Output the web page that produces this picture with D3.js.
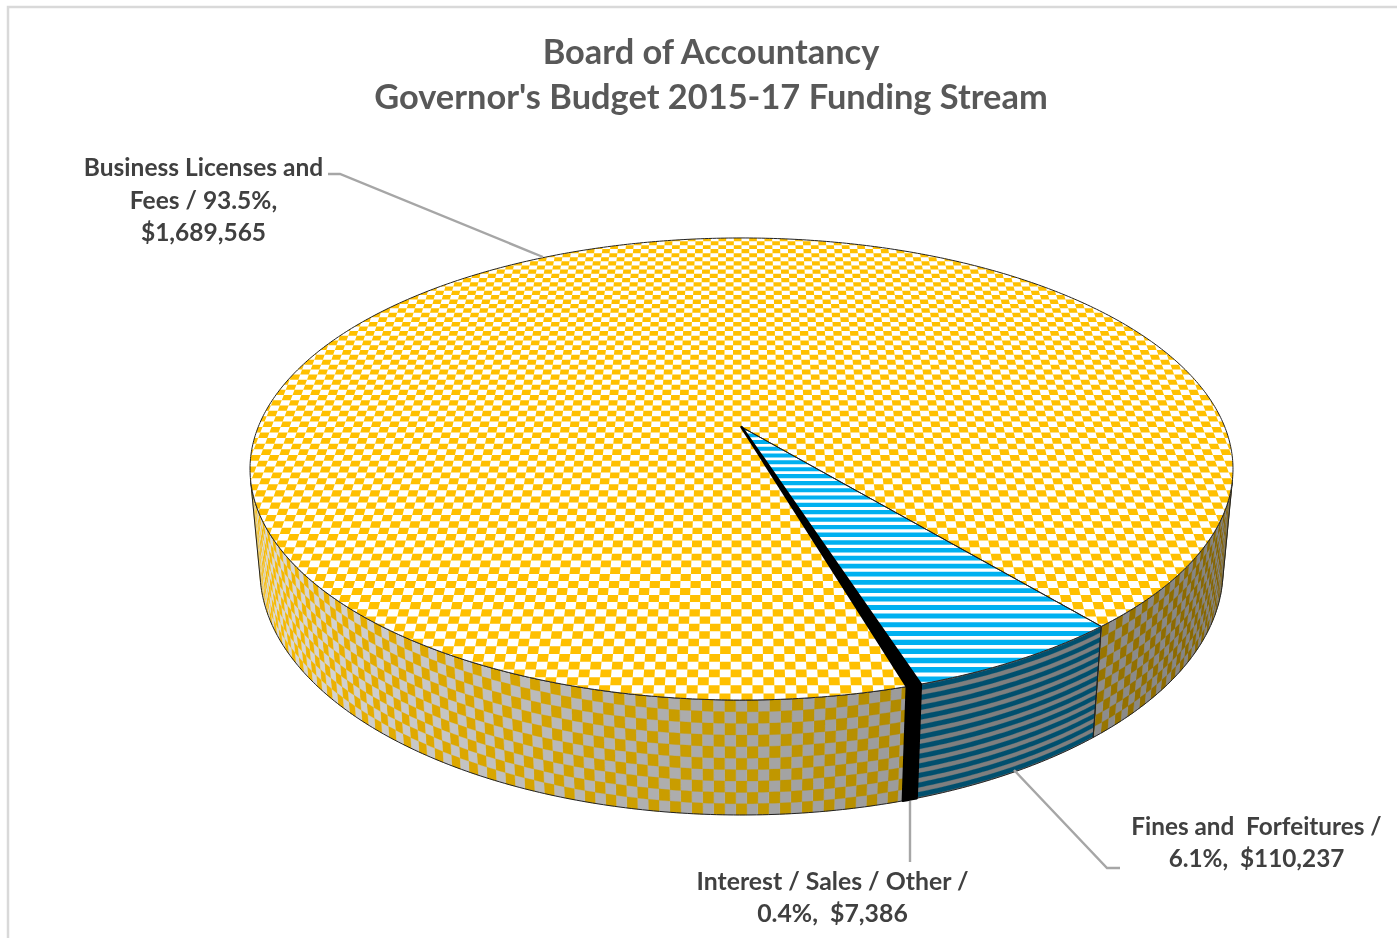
<!DOCTYPE html>
<html>
<head>
<meta charset="utf-8">
<script src="https://cdn.jsdelivr.net/npm/d3@7/dist/d3.min.js"></script>
<style>
  html, body { margin: 0; padding: 0; background: #fff; }
  svg { display: block; }
  text { font-family: Lato, "Open Sans", sans-serif; font-weight: 700; }
</style>
</head>
<body>
<div id="chart"></div>
<script>
var categories = ["Business Licenses and Fees", "Fines and Forfeitures", "Interest / Sales / Other"];
var amounts = [1689565, 110237, 7386];
var titleLines = ["Board of Accountancy", "Governor's Budget 2015-17 Funding Stream"];
var labelLines = [
    ["Business Licenses and", "Fees / 93.5%,", "$1,689,565"],
    ["Fines and  Forfeitures /", "6.1%,  $110,237"],
    ["Interest / Sales / Other /", "0.4%,  $7,386"]
];

var width = 1397, height = 938;

// camera: u,v on the unit disc, h is depth of the pie (0 top, 1 bottom)
var cam = {cx: 741.5, y0: 427, a: 483.3, b: 223.4, c: 0.1818, d: 0.02, e: 101.8};

function project(u, v, h) {
    var w = 1 - cam.c * v + cam.d * h;
    return [cam.cx + cam.a * u / w, cam.y0 + (cam.b * v + cam.e * h) / w];
}
function rim(t, h) { return project(Math.sin(t), -Math.cos(t), h); }

var line = d3.line();
var rad = Math.PI / 180;

var svg = d3.select("#chart").append("svg")
    .attr("width", width)
    .attr("height", height);

// the reference is a soft, scaled up screenshot
svg.append("filter")
    .attr("id", "soft")
    .attr("filterUnits", "userSpaceOnUse")
    .attr("x", 0).attr("y", 0)
    .attr("width", width).attr("height", height)
    .append("feGaussianBlur")
    .attr("stdDeviation", 0.45);

var root = svg.append("g").attr("filter", "url(#soft)");

// frame of the chart area, runs off the picture on the right and bottom
root.append("path")
    .attr("d", "M8,938V7H1397")
    .attr("fill", "none")
    .attr("stroke", "#d9d9d9")
    .attr("stroke-width", 2.5);

var slices = d3.pie().sort(null)
    .startAngle(163.6 * rad)
    .endAngle(163.6 * rad + 2 * Math.PI)(amounts);

var shadeDomain = [-1, -0.65, 0, 1];
var wallOrange = d3.scaleLinear().domain(shadeDomain).range(["#ffc000", "#e3ab00", "#c49a00", "#806000"]);
var wallGrey = d3.scaleLinear().domain(shadeDomain).range(["#dedede", "#cccccc", "#a6a6a6", "#7f7f7f"]);
var wallBlue = "#00506e", wallStripe = "#7f7f7f";

// ---- side wall ----
function faces(t) {
    var s = 0.004,
        p = rim(t - s, 0), q = rim(t + s, 0), r = rim(t, 1), m = rim(t, 0);
    return (q[0] - p[0]) * (r[1] - m[1]) - (q[1] - p[1]) * (r[0] - m[0]) < 0;
}
var visible = d3.range(0, 360, 0.1).map(function(d) { return d * rad; }).filter(faces),
    visFrom = d3.min(visible),
    visTo = d3.max(visible);

var pieces = [];
slices.forEach(function(s, i) {
    [-1, 0, 1].forEach(function(k) {
        var from = Math.max(s.startAngle + k * 2 * Math.PI, visFrom),
            to = Math.min(s.endAngle + k * 2 * Math.PI, visTo);
        if (from < to) pieces.push({index: i, from: from, to: to});
    });
});

// band of the wall between two depths, along one angular range
function wallBand(from, to, h0, h1) {
    var n = Math.max(2, Math.ceil((to - from) / 0.01)),
        ts = d3.range(n + 1).map(function(k) { return from + (to - from) * k / n; }),
        pts = ts.map(function(t) { return rim(t, h0); })
            .concat(ts.slice().reverse().map(function(t) { return rim(t, h1); }));
    return line(pts) + "Z";
}

var wall = root.append("g");
var dT = 0.0191, rows = 10, stripes = 11.7;

pieces.forEach(function(p) {
    var cells = [];
    if (p.index === 0) {
        d3.range(Math.floor(p.from / dT), Math.ceil(p.to / dT)).forEach(function(i) {
            var t0 = Math.max(i * dT, p.from), t1 = Math.min((i + 1) * dT, p.to),
                sn = Math.sin((t0 + t1) / 2);
            cells.push({d: wallBand(t0, t1, 0, 1), color: wallGrey(sn)});
            d3.range(rows).forEach(function(j) {
                if ((i + j) % 2) cells.push({d: wallBand(t0, t1, j / rows, (j + 1) / rows), color: wallOrange(sn)});
            });
        });
    } else if (p.index === 1) {
        cells.push({d: wallBand(p.from, p.to, 0, 1), color: wallStripe});
        d3.range(Math.floor(stripes) + 1).forEach(function(j) {
            cells.push({d: wallBand(p.from, p.to, (j + 0.1) / stripes, Math.min(1, (j + 0.6) / stripes)), color: wallBlue});
        });
    }
    wall.append("g").selectAll("path")
        .data(cells)
        .enter().append("path")
        .attr("d", function(c) { return c.d; })
        .attr("fill", function(c) { return c.color; })
        .attr("stroke", function(c) { return c.color; })
        .attr("stroke-width", 0.3);
});

// wall outlines, black slice is solid
wall.append("g").selectAll("path")
    .data(pieces)
    .enter().append("path")
    .attr("d", function(p) { return wallBand(p.from, p.to, 0, 1); })
    .attr("fill", function(p) { return p.index === 2 ? "#000" : "none"; })
    .attr("stroke", function(p) { return p.index === 2 ? "#000" : "#222"; })
    .attr("stroke-width", function(p) { return p.index === 2 ? 2.5 : 1; })
    .attr("stroke-linejoin", "round");

// ---- top of the pie ----
function slicePath(s) {
    var n = Math.max(2, Math.ceil((s.endAngle - s.startAngle) / 0.01)),
        pts = [project(0, 0, 0)].concat(d3.range(n + 1).map(function(k) {
            return rim(s.startAngle + (s.endAngle - s.startAngle) * k / n, 0);
        }));
    return line(pts) + "Z";
}

svg.append("defs").selectAll("clipPath")
    .data(slices)
    .enter().append("clipPath")
    .attr("id", function(d, i) { return "slice" + i; })
    .append("path")
    .attr("d", slicePath);

function quad(u0, u1, v0, v1) {
    return line([project(u0, v0, 0), project(u1, v0, 0), project(u1, v1, 0), project(u0, v1, 0)]) + "Z";
}

var dU = 0.0187, dV = 0.0245, dS = 0.029;

var checks = "";
d3.range(-54, 54).forEach(function(i) {
    d3.range(-42, 42).forEach(function(j) {
        if ((i + j + 2000) % 2) return;
        var u = i * dU, v = j * dV;
        if (Math.hypot(u + dU / 2, v + dV / 2) > 1.03) return;
        checks += quad(u, u + dU, v, v + dV);
    });
});
var bands = "";
d3.range(0, 36).forEach(function(j) {
    bands += quad(-1.1, 1.1, j * dS, j * dS + dS * 0.58);
});

var pieTop = root.append("g");
pieTop.selectAll("path.base")
    .data(slices)
    .enter().append("path")
    .attr("class", "base")
    .attr("d", slicePath)
    .attr("fill", function(d, i) { return i === 2 ? "#000" : "#fff"; });
pieTop.append("path")
    .attr("d", checks)
    .attr("fill", "#ffc000")
    .attr("clip-path", "url(#slice0)");
pieTop.append("path")
    .attr("d", bands)
    .attr("fill", "#00b0f0")
    .attr("clip-path", "url(#slice1)");
pieTop.selectAll("path.edge")
    .data(slices)
    .enter().append("path")
    .attr("class", "edge")
    .attr("d", slicePath)
    .attr("fill", "none")
    .attr("stroke", function(d, i) { return i === 2 ? "#000" : "#222"; })
    .attr("stroke-width", function(d, i) { return i === 2 ? 2.5 : 1; })
    .attr("stroke-linejoin", "round");

// ---- leader lines ----
var leaders = [
    [[328, 174], [340, 174], [543, 257]],
    [[1120, 868], [1107, 868], [1014, 770]],
    [[910, 801], [910, 862]]
];
root.append("g").selectAll("path")
    .data(leaders)
    .enter().append("path")
    .attr("d", function(d) { return line(d); })
    .attr("fill", "none")
    .attr("stroke", "#a6a6a6")
    .attr("stroke-width", 2.4);

// ---- text ----
root.append("g").selectAll("text")
    .data(titleLines)
    .enter().append("text")
    .attr("x", 711)
    .attr("y", function(d, i) { return 64 + i * 45; })
    .attr("text-anchor", "middle")
    .attr("font-size", 34.4)
    .attr("fill", "#595959")
    .text(function(d) { return d; });

var labelPos = [[203.5, 176], [1256.5, 834.5], [832.5, 889.5]];
var labelSize = [24.5, 24.3, 24.8];
var labels = root.append("g").selectAll("text.label")
    .data(labelLines)
    .enter().append("text")
    .attr("class", "label")
    .attr("text-anchor", "middle")
    .attr("font-size", function(d, i) { return labelSize[i]; })
    .attr("fill", "#404040");
labels.selectAll("tspan")
    .data(function(d, i) { return d.map(function(t, k) { return {t: t, k: k, i: i}; }); })
    .enter().append("tspan")
    .attr("x", function(d) { return labelPos[d.i][0]; })
    .attr("y", function(d) { return labelPos[d.i][1] + d.k * 32.5; })
    .style("white-space", "pre")
    .text(function(d) { return d.t; });
</script>
</body>
</html>
